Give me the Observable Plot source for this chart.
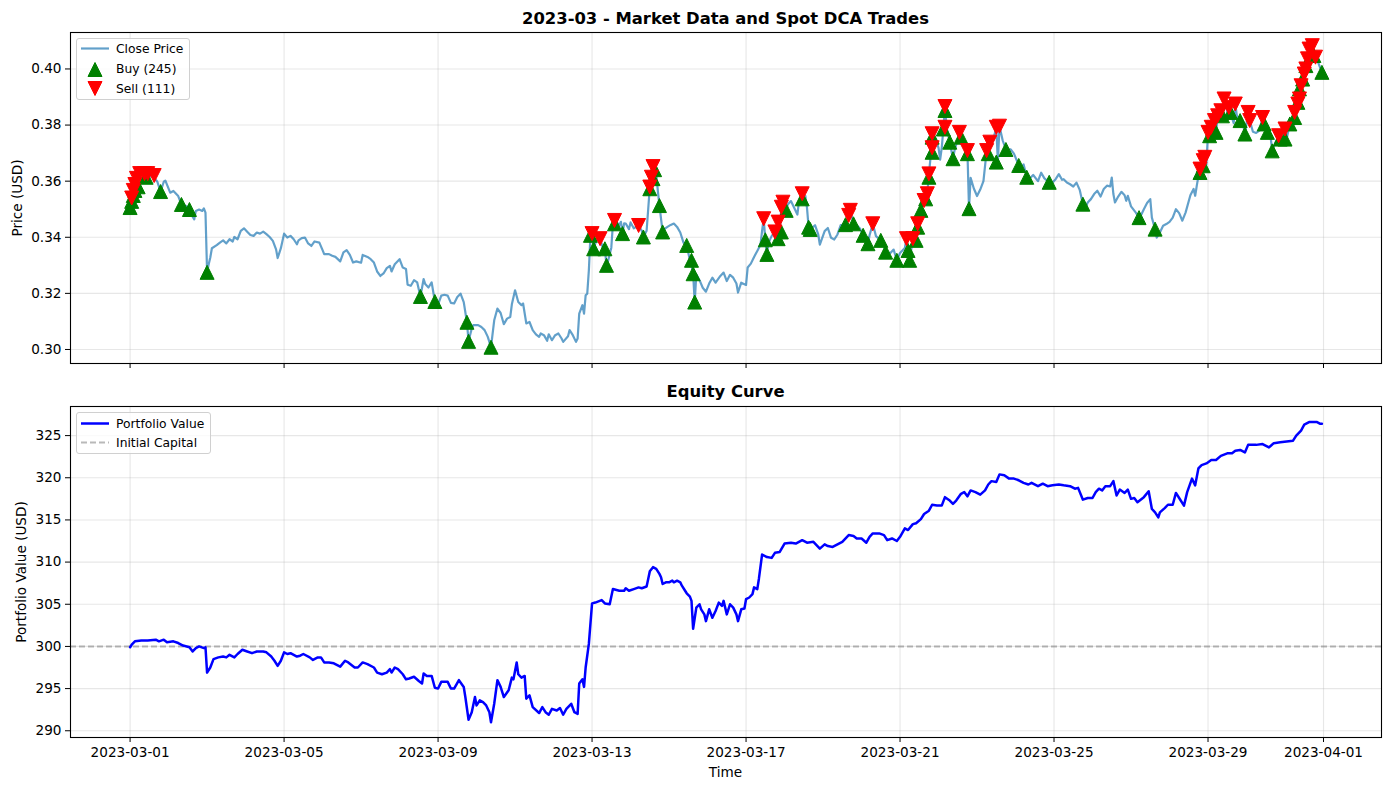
<!DOCTYPE html>
<html>
<head>
<meta charset="utf-8">
<script src="https://cdn.jsdelivr.net/npm/d3@7"></script>
<script src="https://cdn.jsdelivr.net/npm/@observablehq/plot@0.6"></script>
<style>
  html, body { margin: 0; padding: 0; background: #fff; }
  #wrap { position: relative; width: 1389px; height: 790px; overflow: hidden; font-family: "DejaVu Sans", sans-serif; color: #000; }
  .title { position: absolute; transform: translate(-50%, -50%); font-weight: bold; font-size: 16.4px; white-space: nowrap; }
  .lab { position: absolute; transform: translate(-50%, -50%); font-size: 13.6px; white-space: nowrap; }
  .ylab { position: absolute; transform: translate(-50%, -50%) rotate(-90deg); font-size: 13.6px; white-space: nowrap; }
  .legend { position: absolute; box-sizing: border-box; background: rgba(255,255,255,0.8); border: 1px solid #d0d0d0; border-radius: 3px; font-size: 12.3px; }
  .legend svg { position: absolute; left: 0; top: 0; overflow: visible; }
  .legend .t { position: absolute; left: 39px; transform: translateY(-50%); white-space: nowrap; }
</style>
</head>
<body>
<div id="wrap"></div>
<script>
// ---------- data ----------
// hours after 2023-03-01 00:00 UTC and close prices
const priceHours = [0,1,2,3,4,5,6,8,10,12,14,16,17,19,21,22,25,27,30,32,35,37,38,40,41,43,45,46,47,48,49,50,51,54,56,58,60,62,64,65,67,69,71,73,75,77,79,81,83,85,87,89,91,92,94,96,98,100,102,104,105,107,109,111,113,115,118,120,121,124,126,128,131,133,135,137,139,141,144,145,148,150,152,154,156,158,160,162,163,165,168,170,172,173,175,177,179,181,183,184,186,188,190,192,194,196,198,200,202,204,206,208,210,211,213,214,217,219,221,223,225,227,229,231,233,235,237,238,240,242,244,245,247,249,251,253,255,256,258,260,261,263,265,267,269,270,273,274,276,278,279,280,282,283,284,285,286,287,288,289,291,293,295,296,297,298,300,301,302,305,306,307,308,309,311,312,314,317,319,320,322,323,324,325,326,327,328,329,330,332,333,335,337,339,341,343,345,347,349,350,351,352,353,355,357,359,361,363,365,368,370,372,374,376,378,379,381,384,385,387,389,391,393,394,395,396,397,398,400,402,403,404,405,406,407,409,410,412,414,416,417,419,420,421,422,423,424,425,427,429,430,433,435,437,439,441,443,446,448,449,451,453,455,457,460,461,463,465,468,470,471,474,476,478,480,483,484,485,486,488,490,491,493,495,496,497,498,499,500,502,504,505,506,507,508,509,511,513,514,516,517,518,520,522,523,524,526,528,530,532,534,535,536,538,540,541,542,544,546,549,551,553,554,555,557,559,561,563,566,568,570,573,575,577,579,581,582,584,586,588,590,592,594,595,597,599,601,603,605,607,609,611,612,613,614,616,618,620,621,622,624,627,629,630,632,634,636,637,639,640,642,644,646,648,650,652,654,656,658,661,663,664,665,666,667,668,669,670,671,672,673,674,675,676,677,678,680,681,682,683,684,685,686,688,689,690,692,694,695,697,698,700,702,704,706,707,709,711,712,714,716,717,719,720,721,723,725,726,727,728,729,730,731,732,733,734,735,736,737,738,739,740,741,743];
const priceValues = [0.3506,0.3535,0.3558,0.3578,0.3605,0.3615,0.3627,0.3627,0.3625,0.3615,0.362,0.3605,0.3598,0.3563,0.3598,0.3602,0.3559,0.3565,0.3547,0.3517,0.3511,0.3499,0.3482,0.3464,0.3494,0.3499,0.3494,0.3503,0.3488,0.3275,0.3304,0.3328,0.3361,0.3372,0.3381,0.3389,0.3378,0.3393,0.3385,0.3401,0.3393,0.3423,0.3432,0.342,0.3408,0.3405,0.3417,0.3413,0.342,0.3411,0.3401,0.3387,0.3357,0.3326,0.3361,0.3413,0.3399,0.3405,0.3393,0.3375,0.3389,0.3397,0.3399,0.3378,0.3369,0.3385,0.3381,0.3354,0.334,0.334,0.3334,0.333,0.3314,0.3346,0.3354,0.3337,0.331,0.3314,0.3309,0.3337,0.333,0.3322,0.331,0.3278,0.3262,0.3271,0.329,0.3298,0.3278,0.3304,0.3322,0.3292,0.3287,0.3231,0.3227,0.3247,0.3239,0.3189,0.3251,0.3233,0.3221,0.3239,0.3171,0.316,0.3192,0.3195,0.3192,0.3166,0.3164,0.3187,0.3199,0.3169,0.3097,0.3029,0.3075,0.3087,0.3087,0.308,0.3069,0.3045,0.3008,0.3104,0.3146,0.313,0.309,0.311,0.3116,0.3161,0.3211,0.3169,0.3158,0.3164,0.3093,0.3098,0.3069,0.3054,0.3045,0.3057,0.3051,0.3031,0.3054,0.3033,0.3051,0.3057,0.3039,0.3027,0.3047,0.3069,0.3051,0.3027,0.3039,0.3128,0.3158,0.3128,0.3193,0.3199,0.3282,0.3407,0.3413,0.3359,0.3395,0.3395,0.3357,0.3359,0.33,0.3316,0.3363,0.3448,0.346,0.3444,0.3455,0.3413,0.345,0.3449,0.3429,0.3453,0.3432,0.3442,0.3423,0.3401,0.3423,0.35,0.3579,0.3614,0.3652,0.3641,0.3625,0.3566,0.3513,0.3419,0.3429,0.3437,0.3444,0.3449,0.3437,0.3417,0.3381,0.3371,0.3318,0.33,0.327,0.3169,0.3268,0.3247,0.322,0.3206,0.3235,0.3256,0.3238,0.3262,0.3274,0.3244,0.3266,0.3256,0.3235,0.3203,0.3238,0.323,0.3292,0.3306,0.333,0.3351,0.3373,0.3423,0.3466,0.3391,0.3339,0.338,0.3405,0.3419,0.3395,0.3454,0.3419,0.3507,0.3525,0.3496,0.3517,0.3529,0.3505,0.3481,0.3529,0.3555,0.3537,0.3547,0.3505,0.3436,0.3428,0.3433,0.3443,0.341,0.3374,0.3422,0.3433,0.3398,0.3392,0.341,0.3443,0.3445,0.3478,0.3496,0.3448,0.3443,0.3431,0.3407,0.3377,0.3407,0.3448,0.3404,0.3389,0.3368,0.3347,0.3344,0.3356,0.3318,0.3344,0.3362,0.3395,0.3353,0.3318,0.3395,0.3389,0.3448,0.3496,0.3531,0.3537,0.3555,0.3626,0.3683,0.3769,0.3752,0.3719,0.3677,0.3719,0.3786,0.3866,0.3792,0.3739,0.368,0.371,0.3749,0.3774,0.3757,0.3731,0.3709,0.3502,0.3612,0.3574,0.3547,0.357,0.36,0.3709,0.3698,0.3739,0.3745,0.3792,0.3668,0.3796,0.3745,0.3713,0.3713,0.3698,0.3671,0.3656,0.3645,0.366,0.3614,0.361,0.3622,0.36,0.363,0.361,0.3596,0.3595,0.3607,0.3625,0.3605,0.3607,0.3595,0.3589,0.3581,0.3595,0.3569,0.3518,0.3498,0.3524,0.3536,0.3554,0.3566,0.3545,0.3572,0.3584,0.3581,0.3613,0.3554,0.3524,0.3545,0.3562,0.355,0.353,0.3548,0.351,0.3488,0.347,0.3476,0.35,0.3522,0.3536,0.347,0.3429,0.3399,0.3417,0.3441,0.3447,0.3455,0.347,0.35,0.3486,0.3459,0.3488,0.355,0.3572,0.3548,0.3584,0.3617,0.3643,0.3631,0.3673,0.3685,0.366,0.3774,0.3762,0.3792,0.3786,0.3816,0.3774,0.3833,0.3851,0.3833,0.3893,0.3887,0.3845,0.3863,0.3845,0.3807,0.3875,0.3833,0.3816,0.3798,0.3768,0.3845,0.3816,0.3776,0.3772,0.378,0.3827,0.3804,0.3774,0.376,0.3708,0.3738,0.3762,0.375,0.3774,0.3786,0.375,0.3804,0.3822,0.3845,0.3855,0.3875,0.3893,0.394,0.3964,0.3982,0.4,0.4036,0.4071,0.4077,0.4083,0.4048,0.4042,0.4033,0.4018,0.3988];

const buyHours  = [0,1,2,3,5,10,19,32,37,48,181,190,210,211,225,287,289,296,297,302,307,320,324,326,327,330,332,347,350,351,352,396,397,404,406,409,419,423,424,446,451,457,460,468,471,478,485,486,490,491,493,496,498,500,500,507,508,511,513,518,522,523,535,540,546,554,559,573,594,629,639,667,669,673,675,677,681,686,692,695,707,709,712,717,720,723,726,728,729,731,733,737,738,743];
const buyPrices = [0.3506,0.3528,0.3549,0.3567,0.358,0.3614,0.3563,0.3517,0.3499,0.3275,0.3189,0.3171,0.3097,0.3029,0.3008,0.3407,0.3359,0.3359,0.33,0.3448,0.3413,0.3401,0.3573,0.3609,0.3641,0.3513,0.3419,0.3371,0.3318,0.327,0.3169,0.3391,0.3339,0.3395,0.3419,0.3496,0.3537,0.3436,0.3428,0.3445,0.3448,0.3407,0.3377,0.3389,0.3347,0.3318,0.3353,0.3318,0.3389,0.3436,0.3496,0.3537,0.3614,0.3757,0.3703,0.3786,0.3852,0.3739,0.368,0.3757,0.3698,0.3502,0.3698,0.3668,0.3713,0.3656,0.3614,0.3596,0.3518,0.347,0.3429,0.3631,0.3655,0.3762,0.3786,0.3774,0.3833,0.3845,0.3816,0.3768,0.3804,0.3774,0.3708,0.375,0.375,0.3804,0.3827,0.3881,0.3929,0.3964,0.4012,0.4054,0.4048,0.3988];

const sellHours  = [1,2,3,4,6,9,11,15,288,293,302,317,324,325,326,395,402,404,406,407,419,448,449,463,484,488,491,495,497,498,500,500,508,508,517,522,534,536,540,542,667,669,670,672,674,676,678,680,682,685,689,697,698,706,716,720,726,728,729,730,732,733,734,735,737,739];
const sellPrices = [0.354,0.3567,0.3588,0.361,0.3627,0.3627,0.3627,0.362,0.3413,0.3395,0.346,0.3442,0.3579,0.3614,0.3652,0.3466,0.3419,0.3454,0.3507,0.3525,0.3555,0.3478,0.3496,0.3448,0.3395,0.3395,0.3448,0.3531,0.3555,0.3626,0.3719,0.3769,0.3866,0.3792,0.3774,0.3709,0.3709,0.3739,0.3792,0.3796,0.3643,0.3673,0.3685,0.3774,0.3792,0.3816,0.3833,0.3851,0.3893,0.3863,0.3875,0.3845,0.3816,0.3827,0.3762,0.3786,0.3845,0.3875,0.3893,0.394,0.3982,0.4,0.4036,0.4071,0.4083,0.4042];

const equityHours = [0,1,3,7,11,16,18,21,23,27,30,33,37,39,41,43,46,47,48,50,52,55,58,60,62,65,67,70,73,76,79,83,85,88,90,92,94,96,98,100,104,106,108,112,114,117,119,121,124,127,131,134,136,140,142,145,148,152,154,157,160,162,163,165,167,170,172,174,177,180,182,183,185,188,190,192,194,198,200,202,205,208,209,211,213,215,216,218,220,222,224,225,227,229,231,233,236,238,239,241,242,244,246,247,249,251,255,257,259,261,263,266,268,270,272,275,277,279,280,282,283,284,286,288,290,294,296,299,301,305,308,309,311,314,317,319,322,323,324,326,328,330,331,332,334,336,338,339,341,343,344,346,347,349,350,351,353,355,356,358,359,361,363,365,367,369,370,372,374,376,378,379,381,383,384,386,388,389,391,392,394,397,400,402,405,408,412,415,419,422,426,430,433,435,438,441,444,448,451,453,456,459,461,463,467,470,472,475,478,480,483,485,488,490,493,495,498,500,503,506,508,511,513,515,518,520,522,524,527,530,533,535,537,540,542,545,548,551,554,557,560,562,566,569,572,575,579,582,586,589,591,594,597,600,602,604,606,608,611,613,615,617,620,622,624,626,628,632,635,637,639,641,642,645,647,650,652,654,657,659,662,664,666,668,671,674,677,680,684,687,689,692,695,697,700,702,706,710,713,717,721,725,727,730,732,735,738,740,742,743];
const equityValues = [299.9,300.2,300.6,300.7,300.7,300.8,300.6,300.8,300.5,300.6,300.4,300.1,299.9,299.4,299.8,300.0,299.8,299.9,296.9,297.5,298.5,298.7,298.8,298.7,299.0,298.7,299.1,299.6,299.4,299.2,299.4,299.4,299.3,298.8,298.3,297.7,298.3,299.3,299.1,299.2,298.8,298.9,299.1,298.7,298.4,298.7,298.7,298.1,298.1,298.0,297.6,298.3,298.1,297.5,297.5,298.1,297.9,297.5,296.9,296.7,296.9,297.3,296.9,297.5,297.3,296.7,296.1,296.2,296.4,295.9,295.6,296.8,296.5,296.5,295.1,295.0,295.8,295.8,295.0,295.0,296.0,295.2,294.0,291.3,292.2,294.0,293.0,293.6,293.4,293.0,292.2,291.0,293.2,296.0,295.2,294.0,294.8,296.3,296.1,298.1,296.7,296.3,296.5,293.8,294.2,292.8,292.1,292.8,292.2,291.9,292.6,292.4,292.7,291.9,292.6,293.2,292.2,292.0,295.6,296.1,295.2,297.5,300.3,305.1,305.2,305.5,305.1,305.0,306.8,306.6,306.6,306.9,306.6,306.8,307.0,306.9,307.1,308.0,308.9,309.4,309.2,308.6,308.2,307.4,307.6,307.6,307.8,307.6,307.8,307.6,307.2,306.6,306.3,305.9,305.4,302.1,304.6,305.0,304.4,303.8,303.0,304.4,303.4,304.2,305.2,304.8,305.4,303.8,305.0,304.6,303.8,303.0,304.4,304.5,305.6,305.8,306.2,307.0,306.8,308.0,310.9,310.6,310.5,311.1,311.2,312.2,312.3,312.2,312.6,312.3,312.4,311.6,312.1,311.9,311.8,312.1,312.4,313.2,313.1,312.8,312.8,312.3,313.0,313.4,313.4,313.2,312.6,312.8,312.5,313.0,314.0,313.8,314.5,314.6,315.1,315.7,316.1,316.8,316.7,316.7,317.7,317.3,316.9,317.3,318.1,318.3,317.8,318.5,318.3,318.0,318.5,319.2,319.6,319.5,320.4,320.3,319.9,319.9,319.7,319.4,319.2,319.4,319.0,319.3,319.0,319.1,319.2,319.1,319.0,318.7,318.8,317.4,317.6,317.6,318.3,318.7,318.5,319.0,319.0,319.6,317.9,318.6,318.2,318.6,317.5,317.6,317.1,317.7,318.4,316.3,315.9,315.3,315.9,316.4,316.8,316.8,318.2,317.6,316.7,318.3,319.9,319.1,321.1,321.5,321.7,322.1,322.1,322.6,322.9,322.9,323.2,323.3,323.0,323.9,323.9,323.9,324.0,323.6,324.1,324.2,324.3,324.4,325.0,325.6,326.3,326.6,326.6,326.6,326.4,326.4];

const initialCapital = [300];
const xTickLabels = ["2023-03-01","2023-03-05","2023-03-09","2023-03-13","2023-03-17","2023-03-21","2023-03-25","2023-03-29","2023-04-01"];
const priceTicks = [0.30,0.32,0.34,0.36,0.38,0.40];
const equityTicks = [290,295,300,305,310,315,320,325];
const legendTop = ["Close Price","Buy (245)","Sell (111)"];
const legendBottom = ["Portfolio Value","Initial Capital"];
const titles = ["2023-03 - Market Data and Spot DCA Trades","Equity Curve"];
const axisLabels = ["Price (USD)","Portfolio Value (USD)","Time"];

// ---------- build ----------
(function () {
const T0 = Date.UTC(2023, 2, 1);
const toDate = h => new Date(T0 + h * 3600000);
const priceData = priceHours.map((h, i) => ({t: toDate(h), p: priceValues[i]}));
const buyData = buyHours.map((h, i) => ({t: toDate(h), p: buyPrices[i]}));
const sellData = sellHours.map((h, i) => ({t: toDate(h), p: sellPrices[i]}));
const equityData = equityHours.map((h, i) => ({t: toDate(h), v: equityValues[i]}));
const xTicks = xTickLabels.map(s => new Date(s + "T00:00:00Z"));

const [h0, h1] = d3.extent(priceHours);
const pad = (h1 - h0) * 0.05;
const xDomain = [toDate(h0 - pad), toDate(h1 + pad)];

const triUp = {draw(ctx, size) { const r = Math.sqrt(size / Math.PI); ctx.moveTo(0, -r); ctx.lineTo(r, r); ctx.lineTo(-r, r); ctx.closePath(); }};
const triDown = {draw(ctx, size) { const r = Math.sqrt(size / Math.PI); ctx.moveTo(0, r); ctx.lineTo(r, -r); ctx.lineTo(-r, -r); ctx.closePath(); }};

const gridStyle = {stroke: "#b0b0b0", strokeOpacity: 0.3, strokeWidth: 1.1};
const plotStyle = {fontFamily: "DejaVu Sans", fontSize: "13.6px", color: "#000", background: "transparent", overflow: "visible"};

const topChart = Plot.plot({
  width: 1389, height: 360,
  marginLeft: 70, marginRight: 8, marginTop: 7, marginBottom: 22,
  style: plotStyle,
  x: {type: "utc", domain: xDomain},
  y: {domain: [0.295, 0.413]},
  marks: [
    Plot.gridX(xTicks, gridStyle),
    Plot.gridY(priceTicks, gridStyle),
    Plot.axisX(xTicks, {tickSize: 5, tickFormat: () => "", label: null}),
    Plot.axisY(priceTicks, {tickSize: 5, tickPadding: 4, tickFormat: d3.format(".2f"), label: null}),
    Plot.line(priceData, {x: "t", y: "p", stroke: "#1f77b4", strokeOpacity: 0.7, strokeWidth: 2.2}),
    Plot.dot(buyData, {x: "t", y: "p", symbol: triUp, r: 7, fill: "green", stroke: "green", strokeWidth: 1}),
    Plot.dot(sellData, {x: "t", y: "p", symbol: triDown, r: 7, fill: "red", stroke: "red", strokeWidth: 1}),
    Plot.frame({stroke: "#000", strokeWidth: 1.1})
  ]
});

const bottomChart = Plot.plot({
  width: 1389, height: 390,
  marginLeft: 70, marginRight: 8, marginTop: 6, marginBottom: 53,
  style: plotStyle,
  x: {type: "utc", domain: xDomain},
  y: {domain: [289.2, 328.45]},
  marks: [
    Plot.gridX(xTicks, gridStyle),
    Plot.gridY(equityTicks, gridStyle),
    Plot.axisX(xTicks, {tickSize: 5, tickPadding: 5, tickFormat: d3.utcFormat("%Y-%m-%d"), label: null}),
    Plot.axisY(equityTicks, {tickSize: 5, tickPadding: 4, label: null}),
    Plot.ruleY(initialCapital, {stroke: "#808080", strokeOpacity: 0.55, strokeWidth: 2, strokeDasharray: "6,3"}),
    Plot.line(equityData, {x: "t", y: "v", stroke: "blue", strokeWidth: 2.5}),
    Plot.frame({stroke: "#000", strokeWidth: 1.1})
  ]
});

const wrap = document.getElementById("wrap");
function place(el, left, topPx) { el.style.position = "absolute"; el.style.left = left + "px"; el.style.top = topPx + "px"; wrap.appendChild(el); return el; }
place(topChart, 0, 25);
place(bottomChart, 0, 400);

function textDiv(cls, txt, x, y) { const d = document.createElement("div"); d.className = cls; d.textContent = txt; d.style.left = x + "px"; d.style.top = y + "px"; wrap.appendChild(d); return d; }
textDiv("title", titles[0], 725.5, 18);
textDiv("title", titles[1], 725.5, 391);
textDiv("ylab", axisLabels[0], 17, 197.5);
textDiv("ylab", axisLabels[1], 21, 571.5);
textDiv("lab", axisLabels[2], 725.5, 772);

const NS = "http://www.w3.org/2000/svg";
function legendBox(left, topPx, w, h) {
  const d = document.createElement("div"); d.className = "legend";
  Object.assign(d.style, {left: left + "px", top: topPx + "px", width: w + "px", height: h + "px"});
  const s = document.createElementNS(NS, "svg"); s.setAttribute("width", w); s.setAttribute("height", h);
  d.appendChild(s); wrap.appendChild(d); return [d, s];
}
function svgEl(parent, tag, attrs) { const e = document.createElementNS(NS, tag); for (const k in attrs) e.setAttribute(k, attrs[k]); parent.appendChild(e); return e; }
function legText(d, txt, y) { const t = document.createElement("div"); t.className = "t"; t.textContent = txt; t.style.top = y + "px"; d.appendChild(t); }

const [lg1, s1] = legendBox(76, 38, 114, 62);
svgEl(s1, "line", {x1: 4, x2: 32, y1: 9.5, y2: 9.5, stroke: "#1f77b4", "stroke-opacity": 0.7, "stroke-width": 2.2});
svgEl(s1, "path", {d: "M18,23.5L25,37.5L11,37.5Z", fill: "green", stroke: "green", "stroke-width": 1});
svgEl(s1, "path", {d: "M18,56.5L25,42.5L11,42.5Z", fill: "red", stroke: "red", "stroke-width": 1});
legText(lg1, legendTop[0], 9.5);
legText(lg1, legendTop[1], 30);
legText(lg1, legendTop[2], 49.5);

const [lg2, s2] = legendBox(76, 412, 135, 42);
svgEl(s2, "line", {x1: 4, x2: 32, y1: 10.5, y2: 10.5, stroke: "blue", "stroke-width": 2.5});
svgEl(s2, "line", {x1: 4, x2: 32, y1: 29.5, y2: 29.5, stroke: "#808080", "stroke-opacity": 0.55, "stroke-width": 2, "stroke-dasharray": "6,3"});
legText(lg2, legendBottom[0], 10.5);
legText(lg2, legendBottom[1], 29.5);
})();
</script>
</body>
</html>
